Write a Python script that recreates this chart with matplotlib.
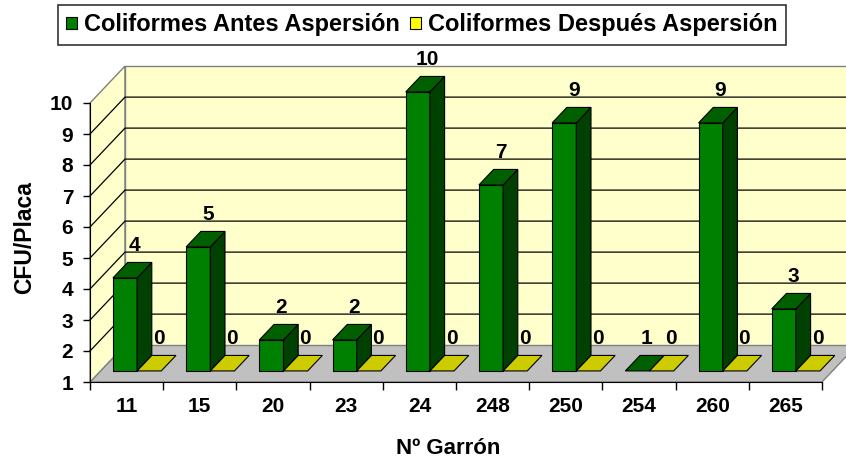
import matplotlib
matplotlib.use("Agg")
import matplotlib.pyplot as plt
from matplotlib.patches import Polygon, Patch

plt.rcParams['font.family'] = ['Liberation Sans', 'DejaVu Sans']
plt.rcParams['font.weight'] = 'bold'

# data
garron = ['11', '15', '20', '23', '24', '248', '250', '254', '260', '265']
antes = [4, 5, 2, 2, 10, 7, 9, 1, 9, 3]
despues = [0, 0, 0, 0, 0, 0, 0, 0, 0, 0]
y_ticks = [1, 2, 3, 4, 5, 6, 7, 8, 9, 10]

ymin, ymax = 1, 10
DX, DY = 0.478, 1.19      # depth offset of the back wall (data units)
d0, d1 = 0.30, 0.72       # depth range of the bars
bw = 0.33                 # bar width

fig = plt.figure(figsize=(8.46, 4.63), dpi=100)
ax = fig.add_axes([90/846, 81/463, 732/846, 279/463])
ax.set_xlim(0, len(garron))
ax.set_ylim(ymin, ymax)

n = len(garron)
wall = '#FFFFCC'
edge = '#808080'

# floor, side wall, back wall
ax.add_patch(Polygon([(0, ymin), (n, ymin), (n + DX, ymin + DY), (DX, ymin + DY)],
                     closed=True, fc='#C0C0C0', ec=edge, lw=1, clip_on=False, zorder=1))
ax.add_patch(Polygon([(0, ymin), (0, ymax), (DX, ymax + DY), (DX, ymin + DY)],
                     closed=True, fc=wall, ec=edge, lw=1, clip_on=False, zorder=1))
ax.add_patch(Polygon([(DX, ymin + DY), (n + DX, ymin + DY), (n + DX, ymax + DY), (DX, ymax + DY)],
                     closed=True, fc=wall, ec=edge, lw=1, clip_on=False, zorder=1))
for v in y_ticks[1:-1]:
    ax.plot([0, DX, n + DX], [v, v + DY, v + DY], color='black', lw=0.9,
            clip_on=False, zorder=2)


def bar3d(x0, value, front, side, top):
    x1 = x0 + bw
    hi = max(value, ymin)
    lo = ymin
    if hi > lo:
        ax.add_patch(Polygon([(x0 + d0*DX, lo + d0*DY), (x1 + d0*DX, lo + d0*DY),
                              (x1 + d0*DX, hi + d0*DY), (x0 + d0*DX, hi + d0*DY)],
                             closed=True, fc=front, ec='black', lw=0.8, clip_on=False, zorder=3))
        ax.add_patch(Polygon([(x1 + d0*DX, lo + d0*DY), (x1 + d1*DX, lo + d1*DY),
                              (x1 + d1*DX, hi + d1*DY), (x1 + d0*DX, hi + d0*DY)],
                             closed=True, fc=side, ec='black', lw=0.8, clip_on=False, zorder=3))
    ax.add_patch(Polygon([(x0 + d0*DX, hi + d0*DY), (x1 + d0*DX, hi + d0*DY),
                          (x1 + d1*DX, hi + d1*DY), (x0 + d1*DX, hi + d1*DY)],
                         closed=True, fc=top, ec='black', lw=0.8, clip_on=False, zorder=3))
    ax.text((x0 + x1) / 2 + d0*DX + 0.13, hi + d1*DY + 0.25, str(value),
            ha='center', va='bottom', fontsize=15, fontweight='bold', zorder=4)


for i in range(n):
    xg = i + 0.5 - bw
    bar3d(xg, antes[i], '#008000', '#004000', '#006000')
    bar3d(xg + bw, despues[i], '#CCCC00', '#999900', '#CCCC00')

# axes
for s in ['top', 'right']:
    ax.spines[s].set_visible(False)
ax.spines['left'].set_color('black')
ax.spines['bottom'].set_color('black')
ax.set_yticks(y_ticks)
ax.set_xticks(range(n + 1))
ax.set_xticklabels([])
ax.set_xticks([i + 0.5 for i in range(n)], minor=True)
ax.set_xticklabels(garron, minor=True)
ax.tick_params(axis='y', length=5, width=1, pad=7, labelsize=15)
ax.tick_params(axis='x', which='major', length=6, width=1, direction='out')
ax.tick_params(axis='x', which='minor', length=0, pad=11, labelsize=15)
for lab in ax.get_yticklabels() + ax.get_xticklabels(minor=True):
    lab.set_fontweight('bold')

fig.text(25/846, 1 - 238/463, 'CFU/Placa', rotation=90, ha='center', va='center',
         fontsize=16.5, fontweight='bold')
fig.text(448/846, 1 - 449/463, 'Nº Garrón', ha='center', va='center',
         fontsize=16, fontweight='bold')

handles = [Patch(fc='#008000', ec='black', lw=0.8, label='Coliformes Antes Aspersión'),
           Patch(fc='#FFFF00', ec='black', lw=0.8, label='Coliformes Después Aspersión')]
leg = fig.legend(handles=handles, loc='upper left', bbox_to_anchor=(58/846, 1 - 5/463),
                 bbox_transform=fig.transFigure, ncol=2, frameon=True, fancybox=False,
                 borderaxespad=0, handlelength=0.45, handleheight=0.45, handletextpad=0.3,
                 columnspacing=0.45, borderpad=0.35, prop={'size': 17, 'weight': 'bold'})
leg.get_frame().set_edgecolor('black')
leg.get_frame().set_linewidth(1.2)

fig.savefig('out.png', dpi=100)
